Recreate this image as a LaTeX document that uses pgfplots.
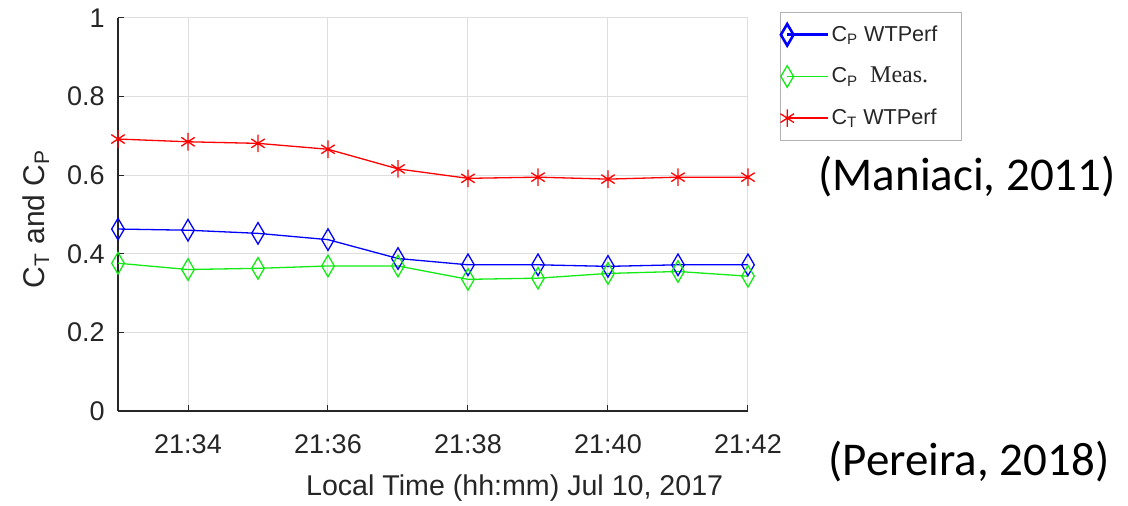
\documentclass[border=0pt]{standalone}
\usepackage{pgfplots}
\pgfplotsset{compat=1.18}
\usepackage{fontspec}
\setmainfont{Liberation Sans}
\newfontfamily\carlito{Carlito}
\newfontfamily\tnr{Liberation Serif}
\definecolor{axgray}{RGB}{38,38,38}
\definecolor{gridgray}{RGB}{222,222,222}
\definecolor{mgreen}{RGB}{20,235,20}
\begin{document}
\begin{tikzpicture}
\useasboundingbox (0,0) rectangle (564pt,-253pt);
\begin{axis}[
  at={(59pt,-205.5pt)}, anchor=south west,
  scale only axis, width=315pt, height=196.5pt,
  xmin=33, xmax=42, ymin=0, ymax=1,
  axis x line*=bottom, axis y line*=left,
  axis line style={-, draw=axgray, line width=0.6pt},
  xtick={34,36,38,40,42}, xticklabels={21:34,21:36,21:38,21:40,21:42},
  ytick={0,0.2,0.4,0.6,0.8,1}, yticklabels={0,0.2,0.4,0.6,0.8,1},
  tick align=inside, major tick length=3pt, tick style={axgray, line width=0.5pt},
  grid=major, major grid style={gridgray, line width=0.5pt},
  ticklabel style={font=\fontsize{13.5}{14}\selectfont, text=axgray},
  xticklabel style={anchor=center, yshift=-16.5pt},
  yticklabel style={anchor=east, inner xsep=0pt, xshift=-6.5pt},
  xlabel={Local Time (hh:mm) Jul 10, 2017},
  xlabel style={at={(axis description cs:0.6296,0)}, anchor=center, yshift=-38.5pt, font=\fontsize{14.3}{15}\selectfont, text=axgray},
  ylabel={C\textsubscript{T} and C\textsubscript{P}},
  ylabel style={at={(axis description cs:-0.13,0.4885)}, anchor=center, font=\fontsize{15}{16}\selectfont, text=axgray},
  legend image code/.code={\draw[mark repeat=2,mark phase=1,#1] plot coordinates {(0pt,0pt) (20.5pt,0pt)};},
  legend style={at={(rel axis cs:1.0508,1.0153)}, anchor=north west, draw=gray!60, line width=0.5pt,
    font=\fontsize{10.8}{11}\selectfont, text=axgray, inner xsep=0pt, inner ysep=4.5pt, row sep=7.5pt,
    nodes={inner xsep=1pt}},
  legend cell align=left,
]
\addplot[blue, line width=0.65pt, mark=diamond, mark size=5.4pt, mark options={xscale=0.78, solid}, legend image post style={line width=1.3pt}]
  coordinates {(33,0.463) (34,0.460) (35,0.452) (36,0.436) (37,0.388) (38,0.372) (39,0.372) (40,0.368) (41,0.372) (42,0.372)};
\addlegendentry{C\textsubscript{P} WTPerf\rule{11pt}{0pt}}
\addplot[mgreen, line width=0.65pt, mark=diamond, mark size=5.4pt, mark options={xscale=0.78, solid}]
  coordinates {(33,0.376) (34,0.360) (35,0.363) (36,0.369) (37,0.369) (38,0.335) (39,0.338) (40,0.350) (41,0.355) (42,0.343)};
\addlegendentry{C\textsubscript{P}\ \ {\tnr\fontsize{12}{12}\selectfont Meas.}}
\addplot[red, line width=0.65pt, mark=asterisk, mark size=4.4pt, mark options={xscale=0.88, solid}]
  coordinates {(33,0.692) (34,0.685) (35,0.681) (36,0.666) (37,0.616) (38,0.592) (39,0.595) (40,0.590) (41,0.595) (42,0.595)};
\addlegendentry{C\textsubscript{T} WTPerf}
\end{axis}
\node[anchor=west, inner sep=0pt, font=\carlito\fontsize{23.5}{26}\selectfont] at (409pt,-88.5pt) {(Maniaci, 2011)};
\node[anchor=west, inner sep=0pt, font=\carlito\fontsize{23.5}{26}\selectfont] at (414pt,-231pt) {(Pereira, 2018)};
\end{tikzpicture}
\end{document}
